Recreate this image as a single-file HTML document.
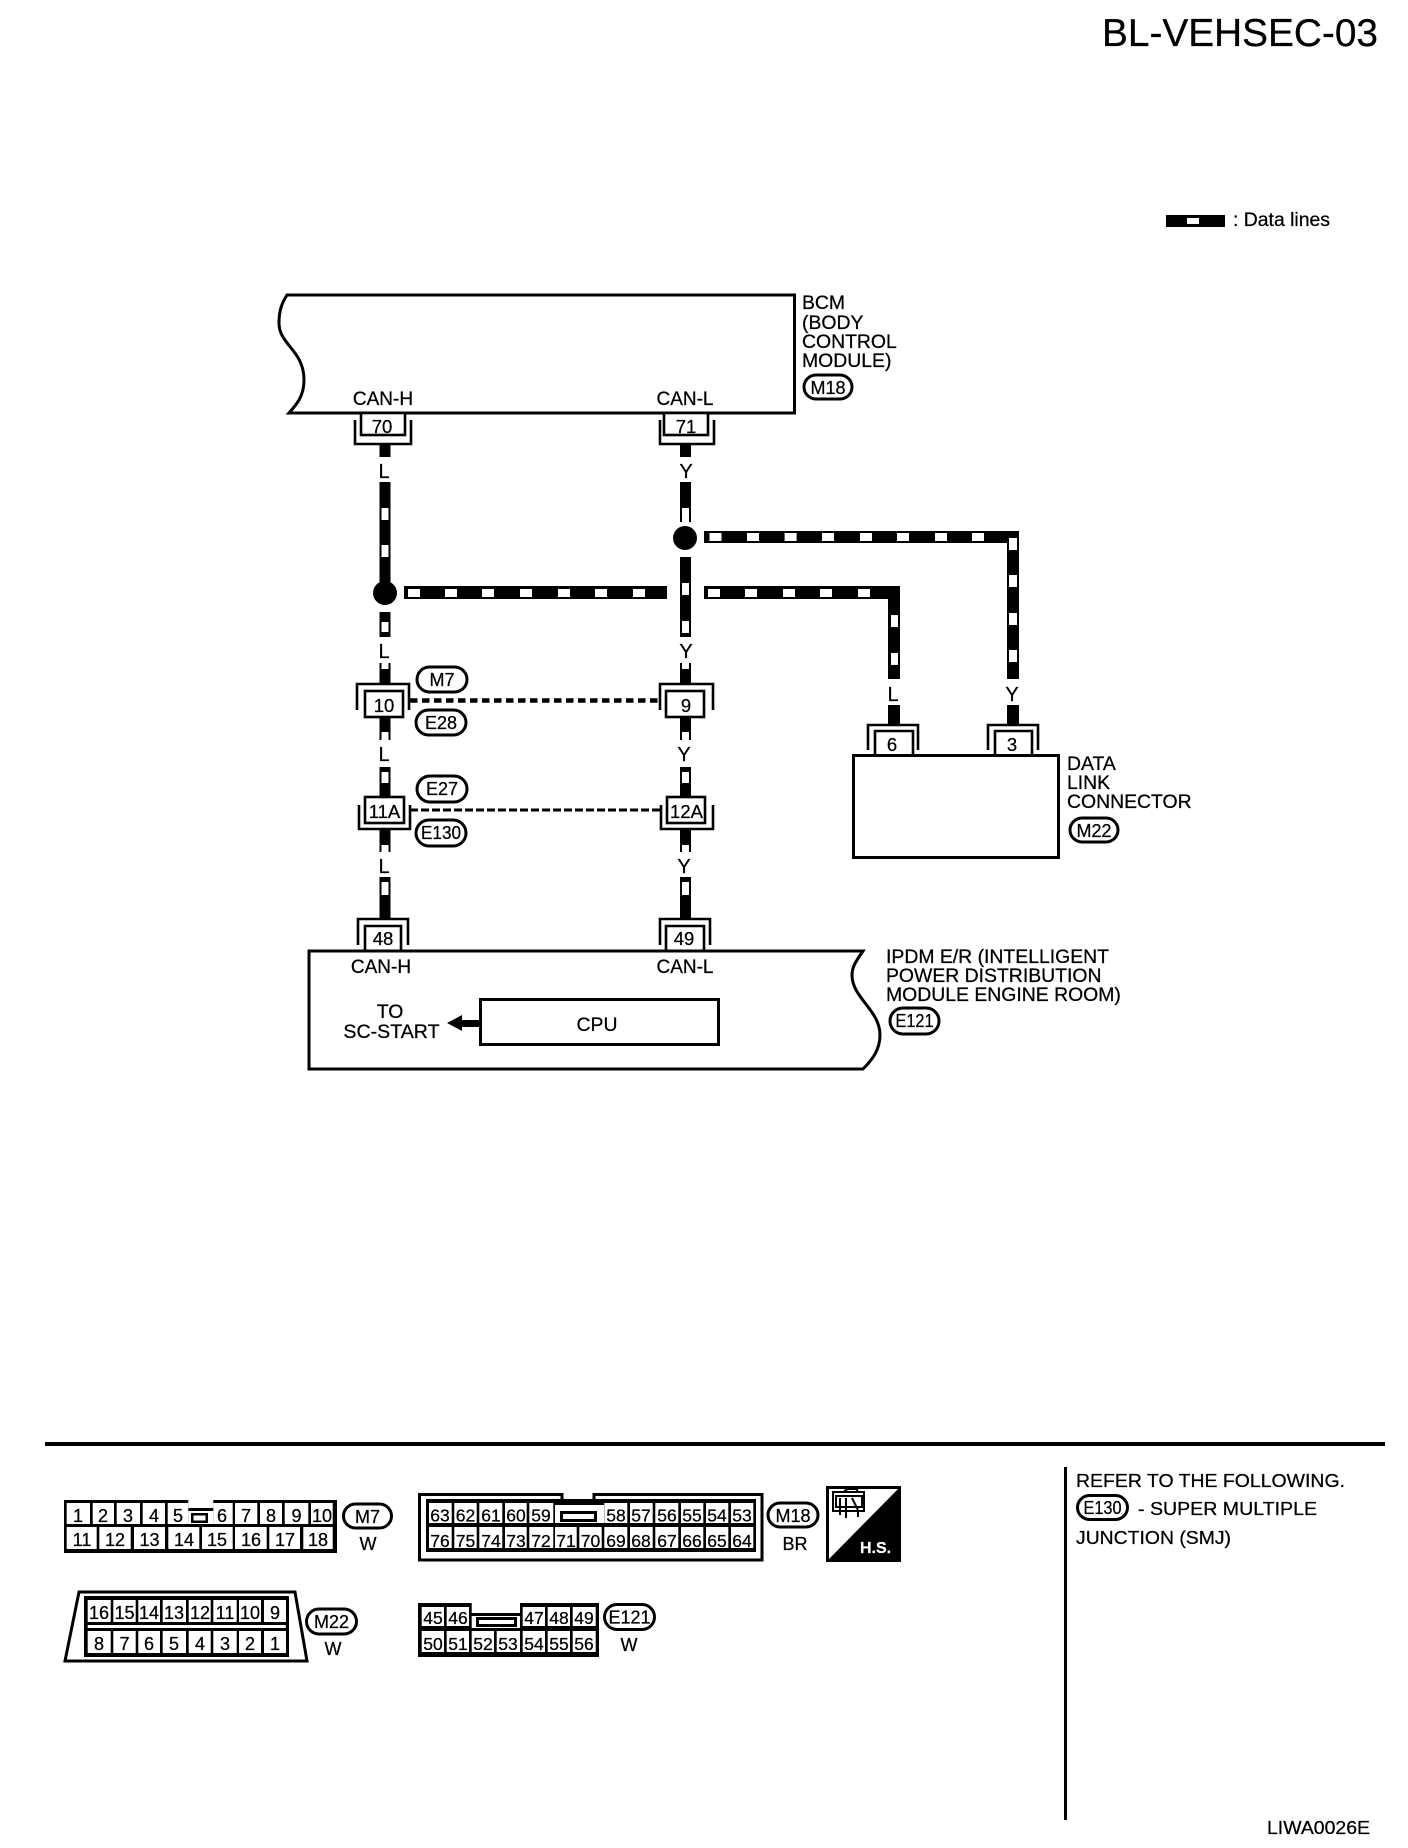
<!DOCTYPE html>
<html><head><meta charset="utf-8"><style>
html,body{margin:0;padding:0;background:#fff}
svg{display:block}
text{font-family:"Liberation Sans",sans-serif;fill:#000;stroke:#000;stroke-width:.25px;font-size:19.4px}
.m{text-anchor:middle}
.n{font-size:18.5px;text-anchor:middle}
.c{font-size:18px;text-anchor:middle}
.s{font-size:17.5px;text-anchor:middle}
.o{fill:#fff;stroke:#000;stroke-width:3}
.l{fill:none;stroke:#000;stroke-width:2.6}
.b{fill:#fff;stroke:#000;stroke-width:2.6}
.w{fill:#fff}
</style></head><body>
<svg width="1408" height="1848" viewBox="0 0 1408 1848" xmlns="http://www.w3.org/2000/svg">
<rect width="1408" height="1848" fill="#fff"/>
<text x="1378" y="46" text-anchor="end" style="font-size:38.8px">BL-VEHSEC-03</text>
<rect x="1166" y="215" width="59" height="12"/><rect class="w" x="1187" y="218" width="12" height="6"/>
<text x="1233" y="226">: Data lines</text>

<!-- BCM -->
<path class="o" d="M287 295 H794.5 V413 H289 C297 404 304 396 304 380 C304 350 279 345 279 323 C279 310 282 303 287 295 Z"/>
<text x="802" y="309">BCM</text><text x="802" y="329">(BODY</text><text x="802" y="348">CONTROL</text><text x="802" y="367">MODULE)</text>
<rect class="o" x="804" y="375" width="48" height="24" rx="12"/><text class="c" x="828" y="394">M18</text>
<text class="m" x="383" y="405" style="font-size:19px">CAN-H</text><text class="m" x="685" y="405" style="font-size:19px">CAN-L</text>

<!-- wires left -->
<g>
<rect x="379.5" y="445" width="11" height="12"/>
<rect x="379.5" y="482" width="11" height="100"/><rect class="w" x="381.5" y="508" width="7" height="12"/><rect class="w" x="381.5" y="545" width="7" height="12"/>
<rect x="379.5" y="612" width="11" height="25"/><rect class="w" x="381.5" y="622" width="7" height="10"/>
<rect x="379.5" y="663" width="11" height="22"/><rect class="w" x="381.5" y="663" width="7" height="6"/>
<rect x="379.5" y="717" width="11" height="23"/><rect class="w" x="381.5" y="732" width="7" height="8"/>
<rect x="379.5" y="767" width="11" height="30"/><rect class="w" x="381.5" y="772" width="7" height="11"/>
<rect x="379.5" y="830" width="11" height="22"/><rect class="w" x="381.5" y="845" width="7" height="7"/>
<rect x="379.5" y="877" width="11" height="41"/><rect class="w" x="381.5" y="882" width="7" height="13"/>
<!-- wires right -->
<rect x="680" y="445" width="11" height="12"/>
<rect x="680" y="482" width="11" height="40"/><rect class="w" x="682" y="508" width="7" height="14"/>
<rect x="680" y="557" width="11" height="80"/><rect class="w" x="682" y="583" width="7" height="12"/><rect class="w" x="682" y="621" width="7" height="12"/>
<rect x="680" y="663" width="11" height="22"/><rect class="w" x="682" y="663" width="7" height="6"/>
<rect x="680" y="717" width="11" height="23"/><rect class="w" x="682" y="732" width="7" height="8"/>
<rect x="680" y="767" width="11" height="30"/><rect class="w" x="682" y="772" width="7" height="11"/>
<rect x="680" y="830" width="11" height="22"/><rect class="w" x="682" y="845" width="7" height="7"/>
<rect x="680" y="877" width="11" height="41"/><rect class="w" x="682" y="882" width="7" height="13"/>
<!-- junctions -->
<circle cx="385" cy="593" r="12"/><circle cx="685" cy="538" r="12"/>
<!-- upper horizontal -->
<rect x="704" y="531" width="315" height="12"/><rect x="1007" y="531" width="12" height="148"/>
<rect class="w" x="709.5" y="533" width="12" height="8"/><rect class="w" x="747" y="533" width="12" height="8"/><rect class="w" x="784.6" y="533" width="12" height="8"/><rect class="w" x="822" y="533" width="12" height="8"/><rect class="w" x="860" y="533" width="12" height="8"/><rect class="w" x="897" y="533" width="12" height="8"/><rect class="w" x="935" y="533" width="12" height="8"/><rect class="w" x="972" y="533" width="12" height="8"/>
<rect class="w" x="1009" y="538" width="8" height="12"/><rect class="w" x="1009" y="575" width="8" height="12"/><rect class="w" x="1009" y="613" width="8" height="12"/><rect class="w" x="1009" y="650" width="8" height="12"/>
<!-- lower horizontal -->
<rect x="404" y="586" width="263" height="13"/>
<rect class="w" x="408" y="589" width="12" height="8"/><rect class="w" x="445" y="589" width="12" height="8"/><rect class="w" x="482" y="589" width="12" height="8"/><rect class="w" x="520" y="589" width="12" height="8"/><rect class="w" x="558" y="589" width="12" height="8"/><rect class="w" x="595" y="589" width="12" height="8"/><rect class="w" x="633" y="589" width="12" height="8"/>
<rect x="704" y="586" width="196" height="13"/><rect x="888" y="586" width="12" height="93"/>
<rect class="w" x="708" y="589" width="12" height="8"/><rect class="w" x="745" y="589" width="12" height="8"/><rect class="w" x="783" y="589" width="12" height="8"/><rect class="w" x="820" y="589" width="12" height="8"/><rect class="w" x="858" y="589" width="12" height="8"/>
<rect class="w" x="891" y="615" width="7" height="12"/><rect class="w" x="891" y="653" width="7" height="12"/>
<rect x="888" y="705" width="12" height="19"/><rect x="1007" y="705" width="12" height="19"/>
</g>

<!-- wire labels -->
<text class="m" x="384" y="478" style="font-size:20px">L</text><text class="m" x="686" y="478" style="font-size:20px">Y</text>
<text class="m" x="384" y="658" style="font-size:20px">L</text><text class="m" x="686" y="658" style="font-size:20px">Y</text>
<text class="m" x="384" y="761" style="font-size:20px">L</text><text class="m" x="684" y="761" style="font-size:20px">Y</text>
<text class="m" x="384" y="873" style="font-size:20px">L</text><text class="m" x="684" y="873" style="font-size:20px">Y</text>
<text class="m" x="893" y="701" style="font-size:20px">L</text><text class="m" x="1012" y="701" style="font-size:20px">Y</text>

<!-- connectors 70 71 -->
<path class="l" d="M355 420 V444 H411 V420"/><rect class="b" x="361" y="413" width="44" height="22"/><text class="n" x="382" y="433">70</text>
<path class="l" d="M660 420 V444 H714 V420"/><rect class="b" x="664" y="413" width="44" height="22"/><text class="n" x="686" y="433">71</text>
<!-- connectors 10 9 -->
<path class="l" d="M357 710 V684 H409 V710"/><rect class="b" x="365" y="691" width="38" height="26"/><text class="n" x="384" y="712">10</text>
<path class="l" d="M660 710 V684 H713 V710"/><rect class="b" x="666" y="691" width="38" height="26"/><text class="n" x="686" y="712">9</text>
<path d="M410 700.5 H661" stroke="#000" stroke-width="4.5" stroke-dasharray="7.5 4.5" fill="none"/>
<!-- connectors 11A 12A -->
<path class="l" d="M359 805 V829 H410 V805"/><rect class="b" x="365" y="797" width="39" height="26"/><text class="n" x="384.5" y="818">11A</text>
<path class="l" d="M661 805 V829 H713 V805"/><rect class="b" x="667" y="797" width="38" height="26"/><text class="n" x="686.5" y="818">12A</text>
<path d="M410 810 H661" stroke="#000" stroke-width="3" stroke-dasharray="8 3" fill="none"/>
<!-- pills -->
<rect class="o" x="417" y="667" width="50" height="25" rx="12.5"/><text class="c" x="442" y="686">M7</text>
<rect class="o" x="416" y="710" width="50" height="25" rx="12.5"/><text class="c" x="441" y="729">E28</text>
<rect class="o" x="417" y="776" width="50" height="26" rx="13"/><text class="c" x="442" y="795">E27</text>
<rect class="o" x="416" y="820" width="50" height="26" rx="13"/><text class="c" x="441" y="839" textLength="40" lengthAdjust="spacingAndGlyphs">E130</text>

<!-- DLC -->
<path class="l" d="M868 750 V725 H918 V750"/><path class="l" d="M875 755 V731 H913 V755"/><text class="n" x="892" y="751">6</text>
<path class="l" d="M988 750 V725 H1038 V750"/><path class="l" d="M995 755 V731 H1032 V755"/><text class="n" x="1012" y="751">3</text>
<rect class="o" x="853.5" y="755.5" width="205" height="102"/>
<text x="1067" y="770">DATA</text><text x="1067" y="789">LINK</text><text x="1067" y="808">CONNECTOR</text>
<rect class="o" x="1070" y="818" width="48" height="24" rx="12"/><text class="c" x="1094" y="837">M22</text>

<!-- connectors 48 49 -->
<path class="l" d="M358 945 V919 H408 V945"/><path class="l" d="M365 950 V926 H401 V950"/><text class="n" x="383" y="945">48</text>
<path class="l" d="M660 945 V919 H710 V945"/><path class="l" d="M666 950 V926 H704 V950"/><text class="n" x="684" y="945">49</text>
<!-- IPDM -->
<path class="o" d="M309 951 H863 C857 960 852 966 852 975 C852 998 880 1010 880 1035 C880 1050 872 1060 863 1069 H309 Z"/>
<text class="m" x="381" y="973" style="font-size:19px">CAN-H</text><text class="m" x="685" y="973" style="font-size:19px">CAN-L</text>
<rect class="o" x="480.5" y="999.5" width="238" height="45"/>
<text class="m" x="597" y="1031">CPU</text>
<text class="m" x="390" y="1018">TO</text><text class="m" x="391.5" y="1038" style="font-size:19.6px">SC-START</text>
<path d="M447 1023 L462 1015 V1020 H480 V1027 H462 V1031 Z"/>
<text x="886" y="963">IPDM E/R (INTELLIGENT</text><text x="886" y="982">POWER DISTRIBUTION</text><text x="886" y="1001">MODULE ENGINE ROOM)</text>
<rect class="o" x="890" y="1008" width="49" height="26" rx="13"/><text class="c" x="914.5" y="1027" textLength="38" lengthAdjust="spacingAndGlyphs">E121</text>

<!-- bottom rules -->
<rect x="45" y="1442" width="1340" height="4"/>
<rect x="1064" y="1467" width="3" height="353"/>
<text x="1076" y="1487" style="font-size:18.5px" textLength="269" lengthAdjust="spacingAndGlyphs">REFER TO THE FOLLOWING.</text>
<text x="1138" y="1515" style="font-size:18.5px" textLength="179" lengthAdjust="spacingAndGlyphs">- SUPER MULTIPLE</text>
<text x="1076" y="1544" style="font-size:18.5px" textLength="155" lengthAdjust="spacingAndGlyphs">JUNCTION (SMJ)</text>
<rect class="o" x="1077.5" y="1495.5" width="50" height="24" rx="12"/><text class="c" x="1102.5" y="1514" textLength="38" lengthAdjust="spacingAndGlyphs">E130</text>
<text x="1267" y="1834" style="font-size:18px" textLength="103" lengthAdjust="spacingAndGlyphs">LIWA0026E</text>

<!-- M7 -->
<rect x="64" y="1500" width="273" height="53"/>
<rect class="w" x="188.3" y="1499" width="25" height="9"/><rect class="w" x="188.3" y="1511" width="25" height="13"/>
<rect x="191" y="1513" width="17" height="10"/><rect class="w" x="193.5" y="1515.5" width="12" height="5"/>
<rect class="w" x="66.7" y="1503" width="23.3" height="21"/><rect class="w" x="92.7" y="1503" width="21.3" height="21"/><rect class="w" x="116.7" y="1503" width="23.3" height="21"/><rect class="w" x="142.7" y="1503" width="22.3" height="21"/><rect class="w" x="167.7" y="1503" width="20.6" height="21"/><rect class="w" x="213.3" y="1503" width="19.4" height="21"/><rect class="w" x="235" y="1503" width="22.3" height="21"/><rect class="w" x="260" y="1503" width="22" height="21"/><rect class="w" x="284.7" y="1503" width="23.6" height="21"/><rect class="w" x="311" y="1503" width="21.7" height="21"/>
<rect class="w" x="66.7" y="1527" width="30" height="22"/><rect class="w" x="99.3" y="1527" width="31.4" height="22"/><rect class="w" x="134" y="1527" width="31" height="22"/><rect class="w" x="168.3" y="1527" width="31" height="22"/><rect class="w" x="202" y="1527" width="30.7" height="22"/><rect class="w" x="235" y="1527" width="31.7" height="22"/><rect class="w" x="269.3" y="1527" width="30.7" height="22"/><rect class="w" x="303.3" y="1527" width="29.4" height="22"/>
<text class="c" x="78" y="1522">1</text><text class="c" x="103" y="1522">2</text><text class="c" x="128" y="1522">3</text><text class="c" x="154" y="1522">4</text><text class="c" x="178" y="1522">5</text><text class="c" x="222" y="1522">6</text><text class="c" x="246" y="1522">7</text><text class="c" x="271" y="1522">8</text><text class="c" x="296.5" y="1522">9</text><text class="c" x="322" y="1522">10</text>
<text class="c" x="82" y="1546">11</text><text class="c" x="115" y="1546">12</text><text class="c" x="149.5" y="1546">13</text><text class="c" x="184" y="1546">14</text><text class="c" x="217" y="1546">15</text><text class="c" x="251" y="1546">16</text><text class="c" x="285" y="1546">17</text><text class="c" x="318" y="1546">18</text>
<rect class="o" x="343.5" y="1504" width="48" height="24" rx="12"/><text class="c" x="367.5" y="1523">M7</text>
<text class="c" x="368" y="1550">W</text>

<!-- M22 -->
<path class="o" d="M79 1592 H295 L307 1661 H65 Z"/>
<rect x="84" y="1596" width="205" height="61"/>
<rect class="w" x="87.7" y="1625" width="198" height="3"/>
<rect class="w" x="87.7" y="1600" width="23" height="22"/><rect class="w" x="113.3" y="1600" width="22.4" height="22"/><rect class="w" x="138.3" y="1600" width="21.7" height="22"/><rect class="w" x="162.7" y="1600" width="23.3" height="22"/><rect class="w" x="188.7" y="1600" width="22" height="22"/><rect class="w" x="213.3" y="1600" width="23.4" height="22"/><rect class="w" x="239" y="1600" width="22" height="22"/><rect class="w" x="264" y="1600" width="22" height="22"/>
<rect class="w" x="87.7" y="1631" width="23" height="22"/><rect class="w" x="113.3" y="1631" width="22.4" height="22"/><rect class="w" x="138.3" y="1631" width="21.7" height="22"/><rect class="w" x="162.7" y="1631" width="23.3" height="22"/><rect class="w" x="188.7" y="1631" width="22" height="22"/><rect class="w" x="213.3" y="1631" width="23.4" height="22"/><rect class="w" x="239" y="1631" width="22" height="22"/><rect class="w" x="264" y="1631" width="22" height="22"/>
<text class="c" x="99" y="1619">16</text><text class="c" x="124.5" y="1619">15</text><text class="c" x="149" y="1619">14</text><text class="c" x="174" y="1619">13</text><text class="c" x="200" y="1619">12</text><text class="c" x="225" y="1619">11</text><text class="c" x="250" y="1619">10</text><text class="c" x="275" y="1619">9</text>
<text class="c" x="99" y="1650">8</text><text class="c" x="124.5" y="1650">7</text><text class="c" x="149" y="1650">6</text><text class="c" x="174" y="1650">5</text><text class="c" x="200" y="1650">4</text><text class="c" x="225" y="1650">3</text><text class="c" x="250" y="1650">2</text><text class="c" x="275" y="1650">1</text>
<rect class="o" x="306.5" y="1609" width="50" height="25" rx="12.5"/><text class="c" x="331.5" y="1628">M22</text>
<text class="c" x="333" y="1655">W</text>

<!-- M18 -->
<path class="o" d="M419.5 1494.5 H562 V1501 H594 V1494.5 H762 V1560 H419.5 Z"/>
<rect x="426" y="1499" width="330" height="53"/>
<rect class="w" x="555" y="1505" width="49" height="18"/><rect x="560" y="1511" width="37" height="11"/><rect class="w" x="563" y="1514" width="31" height="5"/>
<rect class="w" x="429" y="1503" width="22.7" height="20"/><rect class="w" x="454.3" y="1503" width="22.4" height="20"/><rect class="w" x="479.3" y="1503" width="23" height="20"/><rect class="w" x="505" y="1503" width="21.7" height="20"/><rect class="w" x="529.3" y="1503" width="24" height="20"/><rect class="w" x="604.3" y="1503" width="23" height="20"/><rect class="w" x="630" y="1503" width="22.7" height="20"/><rect class="w" x="655.3" y="1503" width="23" height="20"/><rect class="w" x="681" y="1503" width="22.3" height="20"/><rect class="w" x="706" y="1503" width="22.3" height="20"/><rect class="w" x="731" y="1503" width="22.3" height="20"/>
<rect class="w" x="429" y="1527" width="22.7" height="21"/><rect class="w" x="454.3" y="1527" width="22.4" height="21"/><rect class="w" x="479.3" y="1527" width="23" height="21"/><rect class="w" x="505" y="1527" width="21.7" height="21"/><rect class="w" x="529.3" y="1527" width="24" height="21"/><rect class="w" x="555" y="1527" width="21.7" height="21"/><rect class="w" x="579.3" y="1527" width="22.4" height="21"/><rect class="w" x="604.3" y="1527" width="23" height="21"/><rect class="w" x="630" y="1527" width="22.7" height="21"/><rect class="w" x="655.3" y="1527" width="23" height="21"/><rect class="w" x="681" y="1527" width="22.3" height="21"/><rect class="w" x="706" y="1527" width="22.3" height="21"/><rect class="w" x="731" y="1527" width="22.3" height="21"/>
<text class="s" x="440" y="1521.5">63</text><text class="s" x="465.5" y="1521.5">62</text><text class="s" x="491" y="1521.5">61</text><text class="s" x="516" y="1521.5">60</text><text class="s" x="541" y="1521.5">59</text><text class="s" x="616" y="1521.5">58</text><text class="s" x="641" y="1521.5">57</text><text class="s" x="667" y="1521.5">56</text><text class="s" x="692" y="1521.5">55</text><text class="s" x="717" y="1521.5">54</text><text class="s" x="742" y="1521.5">53</text>
<text class="s" x="440" y="1547">76</text><text class="s" x="465.5" y="1547">75</text><text class="s" x="491" y="1547">74</text><text class="s" x="516" y="1547">73</text><text class="s" x="541" y="1547">72</text><text class="s" x="566" y="1547">71</text><text class="s" x="590.5" y="1547">70</text><text class="s" x="616" y="1547">69</text><text class="s" x="641" y="1547">68</text><text class="s" x="667" y="1547">67</text><text class="s" x="692" y="1547">66</text><text class="s" x="717" y="1547">65</text><text class="s" x="742" y="1547">64</text>
<rect class="o" x="768" y="1503" width="50" height="24" rx="12"/><text class="c" x="793" y="1522">M18</text>
<text class="c" x="795" y="1550">BR</text>

<!-- HS icon -->
<rect class="o" x="827.5" y="1487.5" width="72" height="73"/>
<path d="M899 1488 V1560 H828 Z"/>
<g fill="none" stroke="#000" stroke-width="2">
<path d="M833 1492 H864 V1511 H833 Z"/><path d="M836 1496 H862 V1507 H836 Z"/>
<path d="M840 1498 V1508 M846 1498 V1511 M852 1498 L858 1510 M846 1511 V1518 M840 1508 V1515 M858 1510 V1517"/>
<path d="M844 1491 L848 1489 H856 L858 1491"/>
</g>
<text x="860" y="1553" style="font-size:16px;fill:#fff;stroke:#fff;font-weight:bold">H.S.</text>

<!-- E121 -->
<rect x="418" y="1603" width="181" height="54"/>
<rect class="w" x="471.7" y="1601" width="48.3" height="12"/><rect class="w" x="471.7" y="1616" width="48.3" height="12"/>
<rect x="476" y="1617" width="41" height="10"/><rect class="w" x="479" y="1620" width="35" height="4"/>
<rect class="w" x="421.7" y="1607" width="22.3" height="19"/><rect class="w" x="446.7" y="1607" width="22.3" height="19"/><rect class="w" x="522.7" y="1607" width="22.3" height="19"/><rect class="w" x="547.7" y="1607" width="22.3" height="19"/><rect class="w" x="572.7" y="1607" width="23" height="19"/>
<rect class="w" x="421.7" y="1631" width="22.3" height="21"/><rect class="w" x="446.7" y="1631" width="22.3" height="21"/><rect class="w" x="471.7" y="1631" width="22.3" height="21"/><rect class="w" x="496.7" y="1631" width="23.3" height="21"/><rect class="w" x="522.7" y="1631" width="22.3" height="21"/><rect class="w" x="547.7" y="1631" width="22.3" height="21"/><rect class="w" x="572.7" y="1631" width="23" height="21"/>
<text class="s" x="433" y="1624">45</text><text class="s" x="458" y="1624">46</text><text class="s" x="534" y="1624">47</text><text class="s" x="559" y="1624">48</text><text class="s" x="584" y="1624">49</text>
<text class="s" x="433" y="1650">50</text><text class="s" x="458" y="1650">51</text><text class="s" x="483" y="1650">52</text><text class="s" x="508" y="1650">53</text><text class="s" x="534" y="1650">54</text><text class="s" x="559" y="1650">55</text><text class="s" x="584" y="1650">56</text>
<rect class="o" x="604.5" y="1604.5" width="50" height="25" rx="12.5"/><text class="c" x="629.5" y="1623.5">E121</text>
<text class="c" x="629" y="1651">W</text>
</svg>
</body></html>
